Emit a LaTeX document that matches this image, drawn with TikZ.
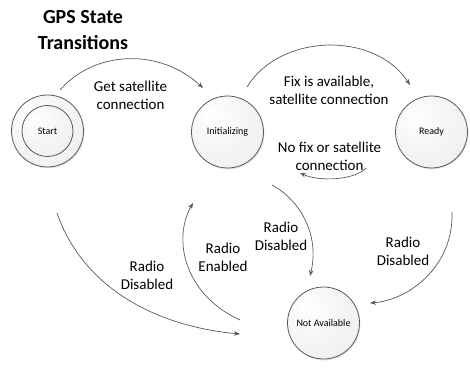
\documentclass[tikz,border=0pt]{standalone}
\usepackage{fontspec}
\setmainfont{Carlito}
\usetikzlibrary{arrows.meta,shadows}
\definecolor{edgegray}{HTML}{595959}
\definecolor{shadelight}{HTML}{FFFFFF}
\definecolor{shadedark}{HTML}{E6E6E6}
\pgfdeclareradialshading{nodeshade}{\pgfpoint{-12bp}{12bp}}{color(0bp)=(shadelight); color(20bp)=(shadelight!60!shadedark); color(60bp)=(shadedark)}
\tikzset{
  state/.style={circle, draw=edgegray, line width=0.8pt, shading=nodeshade,
    minimum size=72pt, inner sep=0pt, font=\fontsize{10}{12}\selectfont,
    drop shadow={opacity=0.18, shadow xshift=1pt, shadow yshift=-1.5pt}},
  innerstate/.style={circle, draw=edgegray, line width=0.8pt, shading=nodeshade,
    minimum size=51pt, inner sep=0pt, font=\fontsize{10}{12}\selectfont},
  trans/.style={draw=edgegray, line width=0.7pt, -{Stealth[length=6pt,width=4.5pt]}},
  lbl/.style={align=center, font=\fontsize{15}{18}\selectfont, inner sep=0pt},
  ttl/.style={align=center, font=\fontsize{20}{26}\selectfont\bfseries, inner sep=0pt}
}
\begin{document}
\begin{tikzpicture}[x=1pt,y=-1pt]
\useasboundingbox (0,0) rectangle (470,387);
\node[ttl] (title) at (83,30) {GPS State\\Transitions};
% states
\node[state] (start) at (47.5,131) {};
\node[innerstate] (startin) at (47.5,131) {Start};
\node[state] (init) at (227.5,132) {Initializing};
\node[state] (ready) at (431.5,132) {Ready};
\node[state] (na) at (323.5,323) {Not Available};
% connector end points
\coordinate (a1s) at (60,90);   \coordinate (a1e) at (203,88);
\coordinate (a2s) at (247,87);  \coordinate (a2e) at (410,85);
\coordinate (a3s) at (366,168); \coordinate (a3e) at (300,173);
\coordinate (a4s) at (272,185); \coordinate (a4e) at (310,276);
\coordinate (a5s) at (240,320); \coordinate (a5e) at (193,203);
\coordinate (a6s) at (57,213);  \coordinate (a6e) at (240,334);
\coordinate (a7s) at (452,212); \coordinate (a7e) at (370,303);
% transitions
\draw[trans] (a1s) .. controls (95,50) and (160,48) .. (a1e);
\draw[trans] (a2s) .. controls (280,33) and (375,31) .. (a2e);
\draw[trans] (a3s) .. controls (355,180) and (320,182) .. (a3e);
\draw[trans] (a4s) .. controls (300,200) and (320,235) .. (a4e);
\draw[trans] (a5s) .. controls (185,295) and (172,240) .. (a5e);
\draw[trans] (a6s) .. controls (80,280) and (145,325) .. (a6e);
\draw[trans] (a7s) .. controls (454,265) and (410,300) .. (a7e);
% labels
\node[lbl] (l1) at (130.5,95) {Get satellite\\connection};
\node[lbl] (l2) at (329,90.5) {Fix is available,\\satellite connection};
\node[lbl] (l3) at (329.5,156) {No fix or satellite\\connection};
\node[lbl] (l4) at (281,236) {Radio\\Disabled};
\node[lbl] (l5) at (223,257.5) {Radio\\Enabled};
\node[lbl] (l6) at (147,275) {Radio\\Disabled};
\node[lbl] (l7) at (403,251) {Radio\\Disabled};
\end{tikzpicture}
\end{document}
